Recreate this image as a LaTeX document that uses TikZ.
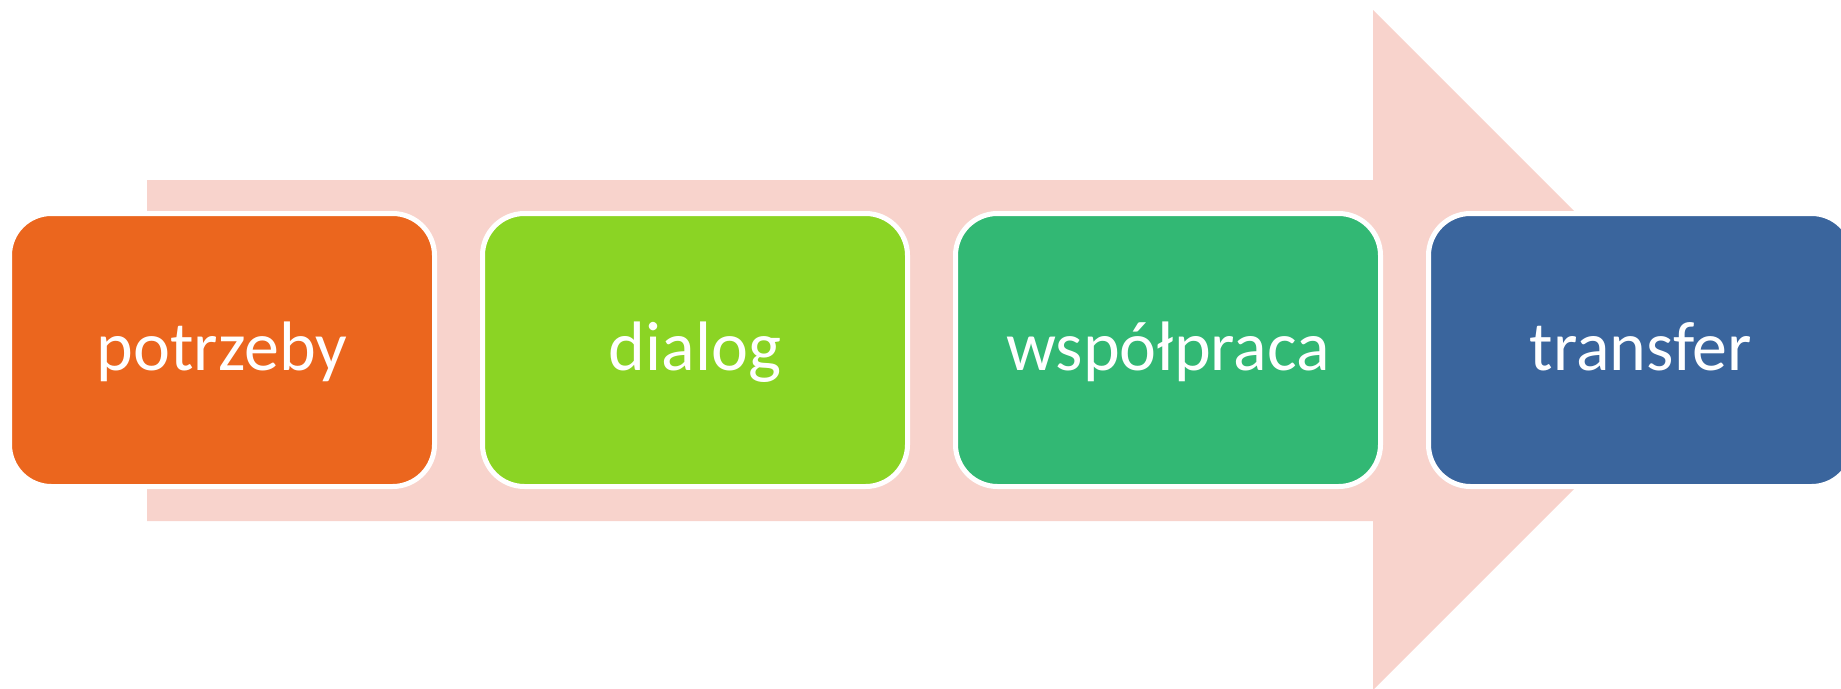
\documentclass[tikz,border=0pt]{standalone}
\usepackage{fontspec}
\setmainfont{Carlito}
\usetikzlibrary{positioning}

\definecolor{arrowpink}{RGB}{248,211,204}
\definecolor{stepone}{RGB}{235,102,30}
\definecolor{steptwo}{RGB}{139,212,36}
\definecolor{stepthree}{RGB}{50,184,116}
\definecolor{stepfour}{RGB}{58,101,157}

\begin{document}
\begin{tikzpicture}[x=1pt, y=-1pt, node distance=48pt,
        phase/.style = {draw=white, line width=5pt, rounded corners=42pt, outer sep=0pt,
                        minimum width=425pt, minimum height=273pt, text=white,
                        font=\fontsize{70}{84}\selectfont, text height=52pt, text depth=12pt},
        ]
        \useasboundingbox (0,0) rectangle (1841,688);
        \clip (0,0) rectangle (1841,688);
        % background arrow
        \fill [arrowpink] (147,180) -- (1373,180) -- (1373,10) -- (1713,350)
            -- (1373,690) -- (1373,521) -- (147,521) -- cycle;

        \node [phase, fill=stepone] (needs) at (222,350) {potrzeby};
        \node [phase, fill=steptwo, right=of needs] (dialog) {dialog};
        \node [phase, fill=stepthree, right=of dialog] (cooperation) {współpraca};
        \node [phase, fill=stepfour, right=of cooperation] (transfer) {transfer};
    \end{tikzpicture}
\end{document}
